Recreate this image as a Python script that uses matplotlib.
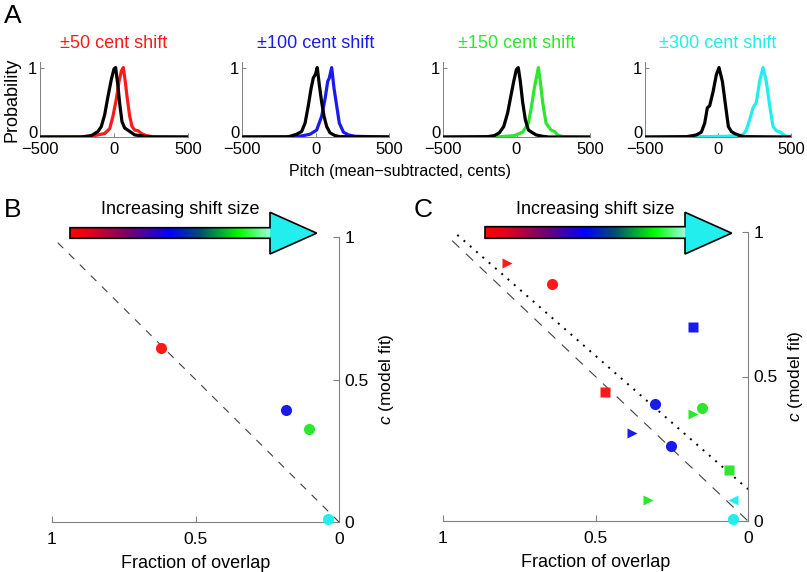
import numpy as np
import matplotlib
matplotlib.use("Agg")
import matplotlib.pyplot as plt
from matplotlib.colors import LinearSegmentedColormap
from matplotlib.patches import Polygon
from matplotlib.transforms import ScaledTranslation

plt.rcParams['font.family'] = ['Liberation Sans', 'DejaVu Sans']
plt.rcParams['mathtext.fontset'] = 'custom'
plt.rcParams['mathtext.it'] = 'Liberation Sans:italic'
plt.rcParams['mathtext.rm'] = 'Liberation Sans'

# ---------------- data: panel A (pitch distributions) ----------------
shift_titles = ["\u00b150 cent shift", "\u00b1100 cent shift", "\u00b1150 cent shift", "\u00b1300 cent shift"]
shift_colors = ["#ff1a1a", "#1a1aee", "#2ee62e", "#22eeee"]

base_x = [
    [-500, -221, -153, -108, -86, -63, -41, -18, 0, 11, 27, 38, 54, 72, 106, 140, 207, 260, 500],
    [-500, -200, -173, -128, -94, -71, -49, -30, -15, -1, 12, 26, 42, 58, 76, 99, 133, 167, 500],
    [-500, -196, -151, -117, -87, -60, -42, -19, -1, 12, 26, 42, 60, 81, 103, 133, 178, 220, 500],
    [-500, -217, -171, -148, -114, -91, -73, -57, -34, -11, 7, 30, 52, 71, 91, 114, 148, 183, 500],
]
base_y = [
    [0, 0, 0.02, 0.08, 0.15, 0.32, 0.58, 0.83, 0.98, 1.0, 0.73, 0.49, 0.22, 0.13, 0.08, 0.03, 0.01, 0, 0],
    [0, 0, 0.01, 0.04, 0.08, 0.2, 0.45, 0.7, 0.85, 0.9, 1.0, 0.75, 0.5, 0.3, 0.15, 0.06, 0.02, 0.005, 0],
    [0, 0.005, 0.02, 0.06, 0.15, 0.35, 0.55, 0.8, 0.97, 1.0, 0.8, 0.5, 0.25, 0.1, 0.07, 0.03, 0.01, 0, 0],
    [0, 0.005, 0.02, 0.03, 0.07, 0.2, 0.42, 0.45, 0.65, 0.9, 1.0, 0.8, 0.45, 0.15, 0.08, 0.05, 0.02, 0.005, 0],
]
shift_x = [
    [-500, -198, -131, -63, -29, -7, 16, 34, 50, 63, 76, 90, 106, 122, 140, 162, 185, 218, 263, 500],
    [-500, -128, -83, -37, 8, 42, 65, 83, 94, 110, 126, 144, 162, 190, 224, 269, 500],
    [-500, -105, -15, 42, 81, 103, 121, 135, 149, 162, 178, 201, 235, 258, 280, 314, 500],
    [-500, -126, 57, 171, 194, 217, 240, 263, 285, 308, 331, 354, 377, 400, 427, 457, 480, 500],
]
shift_y = [
    [0, 0.005, 0.02, 0.05, 0.12, 0.3, 0.55, 0.8, 0.95, 1.0, 0.8, 0.55, 0.3, 0.15, 0.1, 0.09, 0.05, 0.02, 0.005, 0],
    [0, 0.005, 0.02, 0.04, 0.1, 0.3, 0.55, 0.8, 0.85, 1.0, 0.7, 0.45, 0.2, 0.07, 0.03, 0.01, 0],
    [0, 0.005, 0.02, 0.07, 0.2, 0.45, 0.7, 0.85, 1.0, 0.8, 0.5, 0.2, 0.1, 0.08, 0.03, 0.005, 0],
    [0, 0.005, 0.01, 0.03, 0.1, 0.25, 0.42, 0.5, 0.8, 1.0, 0.8, 0.45, 0.15, 0.09, 0.07, 0.02, 0.005, 0],
]

# ---------------- data: panel B ----------------
b_overlap = [0.62, 0.185, 0.105, 0.037]
b_c = [0.61, 0.393, 0.325, 0.01]
b_colors = ["#ff1a1a", "#1a1aee", "#2ee62e", "#22eeee"]

# ---------------- data: panel C ----------------
c_overlap = [0.643, 0.305, 0.252, 0.151, 0.050,
             0.470, 0.180, 0.061,
             0.791, 0.379, 0.181, 0.327,
             0.049]
c_c = [0.820, 0.405, 0.261, 0.390, 0.006,
       0.445, 0.671, 0.176,
       0.892, 0.306, 0.370, 0.074,
       0.072]
c_marker = ['o', 'o', 'o', 'o', 'o',
            's', 's', 's',
            '>', '>', '>', '>',
            '<']
c_colors = ["#ff1a1a", "#1a1aee", "#1a1aee", "#2ee62e", "#22eeee",
            "#ff1a1a", "#1a1aee", "#2ee62e",
            "#ff1a1a", "#1a1aee", "#2ee62e", "#2ee62e",
            "#22eeee"]
unity_b = [0.98, 0.0]
unity_c = [0.97, 0.0]
fit_x = [0.953, 0.0]
fit_y = [0.99, 0.11]

W, H = 807, 572
fig = plt.figure(figsize=(W / 100, H / 100), dpi=100)


def px_axes(x0, x1, ytop, ybot):
    return fig.add_axes([x0 / W, 1 - ybot / H, (x1 - x0) / W, (ybot - ytop) / H])


spine_gray = '#808080'

# ---------------- panel A ----------------
a_lims = [(40, 188), (242, 389), (443, 590), (645, 791)]
for i, (x0, x1) in enumerate(a_lims):
    ax = px_axes(x0, x1, 62, 137)
    ax.plot(base_x[i], base_y[i], color='black', lw=2.3, solid_joinstyle='round', zorder=3)
    ax.plot(shift_x[i], shift_y[i], color=shift_colors[i], lw=2.3, solid_joinstyle='round', zorder=2)
    ax.set_xlim(-500, 500)
    ax.set_ylim(0, 1.08)
    ax.set_xticks([-500, 0, 500])
    ax.set_yticks([0, 1])
    ax.set_yticklabels(['0', '1'])
    for s in ['top', 'right']:
        ax.spines[s].set_visible(False)
    ax.spines['left'].set_color(spine_gray)
    ax.spines['bottom'].set_color(spine_gray)
    ax.spines['left'].set_linewidth(0.7)
    ax.spines['bottom'].set_linewidth(0.7)
    ax.tick_params(direction='in', length=3, width=0.7, color=spine_gray, labelsize=12)
    ax.tick_params(axis='x', pad=3.5)
    ax.tick_params(axis='y', pad=2)
    # the "0" y label sits just above the x tick labels
    zero_lab = ax.yaxis.get_major_ticks()[0].label1
    zero_lab.set_va('bottom')
    zero_lab.set_transform(zero_lab.get_transform() + ScaledTranslation(0, -3.5 / 100, fig.dpi_scale_trans))
    ax.set_title(shift_titles[i], color=shift_colors[i], fontsize=13, pad=10)

fig.text(12 / W, 1 - 100 / H, 'Probability', rotation=90, ha='center', va='center', fontsize=13)
fig.text(400 / W, 1 - 172 / H, 'Pitch (mean\u2212subtracted, cents)', ha='center', va='center', fontsize=11.5)


# ---------------- panels B and C ----------------
def style_bc(ax):
    ax.set_xlim(1, 0)
    ax.set_ylim(0, 1)
    ax.set_xticks([1, 0.5, 0])
    ax.set_xticklabels(['1', '0.5', '0'])
    ax.set_yticks([0, 0.5, 1])
    ax.set_yticklabels(['0', '0.5', '1'])
    ax.yaxis.tick_right()
    ax.yaxis.set_label_position('right')
    for s in ['top', 'left']:
        ax.spines[s].set_visible(False)
    for s in ['right', 'bottom']:
        ax.spines[s].set_color(spine_gray)
        ax.spines[s].set_linewidth(0.8)
    ax.tick_params(direction='in', length=4, width=0.8, color=spine_gray, labelsize=12.5)
    ax.tick_params(axis='x', pad=7)
    ax.tick_params(axis='y', pad=4)
    ax.set_xlabel('Fraction of overlap', fontsize=13, labelpad=6)
    ax.set_ylabel('$c$ (model fit)', fontsize=12.5, labelpad=6)
    ax.patch.set_alpha(0)


axB = px_axes(52, 339, 237, 522)
style_bc(axB)
axB.plot(unity_b, unity_b, color='#404040', lw=0.8, ls=(0, (7, 7)))
for x, y, col in zip(b_overlap, b_c, b_colors):
    axB.plot(x, y, 'o', color=col, ms=8, mec='none', clip_on=False, zorder=4)

axC = px_axes(443, 748, 232, 521)
style_bc(axC)
axC.plot(unity_c, unity_c, color='#404040', lw=0.8, ls=(0, (9, 8)))
axC.plot(fit_x, fit_y, color='black', lw=1.4, ls=(0, (1, 3.3)))
for x, y, m, col in zip(c_overlap, c_c, c_marker, c_colors):
    ms = {'o': 8, 's': 6.5, '>': 7.5, '<': 7.5}[m]
    axC.plot(x, y, m, color=col, ms=ms, mec='none', clip_on=False, zorder=4)

# ---------------- overlay: arrows & panel letters ----------------
ov = fig.add_axes([0, 0, 1, 1], zorder=10)
ov.set_xlim(0, W)
ov.set_ylim(H, 0)
ov.axis('off')
ov.patch.set_alpha(0)

grad_cmap = LinearSegmentedColormap.from_list('shift', [
    (0.0, (1.0, 0.0, 0.0)),
    (0.1, (0.9, 0.0, 0.1)),
    (0.3, (0.45, 0.0, 0.45)),
    (0.5, (0.0, 0.0, 1.0)),
    (0.65, (0.0, 0.3, 0.45)),
    (0.85, (0.0, 1.0, 0.0)),
    (1.0, (0.6, 1.0, 0.85)),
])
grad = np.linspace(0, 1, 256).reshape(1, -1)


def draw_arrow(x0, xh, xt, ry0, ry1, hy0, hy1):
    yc = (hy0 + hy1) / 2
    ov.imshow(grad, extent=[x0, xh, ry1, ry0], aspect='auto', cmap=grad_cmap, zorder=1)
    head = Polygon([(xh, hy0), (xt, yc), (xh, hy1)], closed=True, facecolor='#22eeee',
                   edgecolor='none', zorder=2)
    ov.add_patch(head)
    outline = Polygon([(x0, ry0), (xh, ry0), (xh, hy0), (xt, yc), (xh, hy1), (xh, ry1), (x0, ry1)],
                      closed=True, facecolor='none', edgecolor='black', lw=1.2, zorder=3,
                      joinstyle='miter')
    ov.add_patch(outline)


draw_arrow(70, 270, 316.7, 227.7, 238.3, 212.3, 254)
draw_arrow(485, 685, 731.7, 226.7, 238.3, 212.3, 254)
ov.text(180, 210, 'Increasing shift size', ha='center', va='center', fontsize=13)
ov.text(595, 210, 'Increasing shift size', ha='center', va='center', fontsize=13)

ov.text(13, 16, 'A', ha='center', va='center', fontsize=19)
ov.text(13, 210, 'B', ha='center', va='center', fontsize=19)
ov.text(423, 210, 'C', ha='center', va='center', fontsize=19)

fig.savefig('out.png', dpi=100)
